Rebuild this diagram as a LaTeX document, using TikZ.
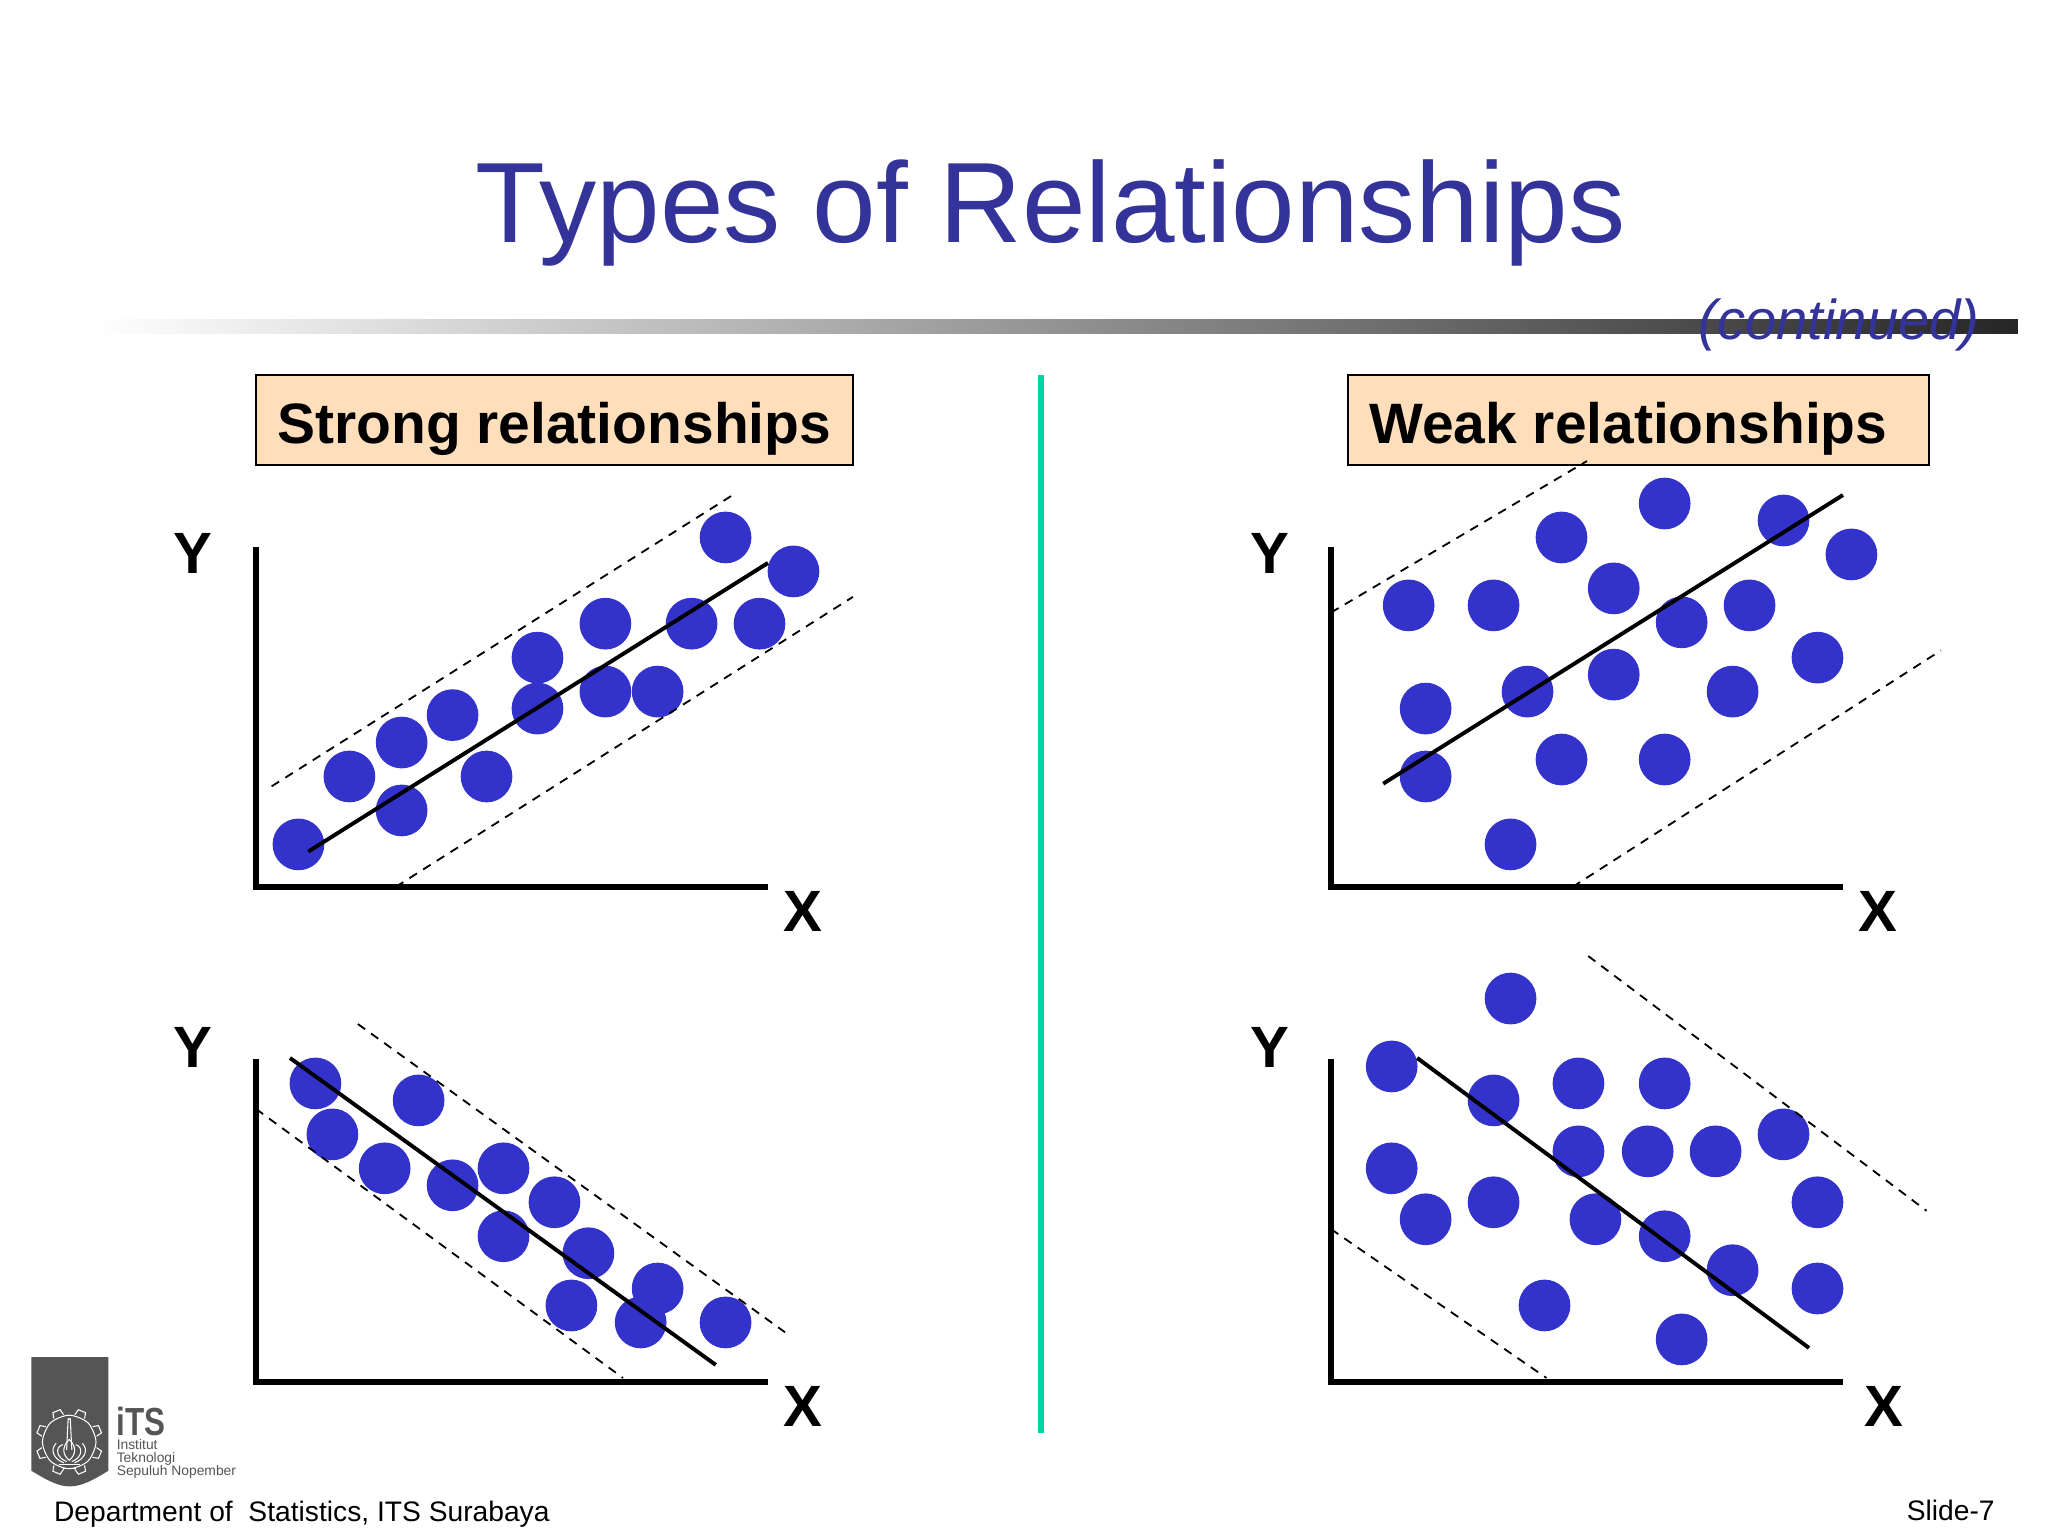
\documentclass[tikz,border=0pt]{standalone}
\usepackage{fontspec}
\setmainfont{Liberation Sans}
\usetikzlibrary{calc}
\definecolor{titleblue}{HTML}{333399}
\definecolor{dotblue}{HTML}{3333CC}
\definecolor{boxfill}{HTML}{FFDFBB}
\definecolor{divider}{HTML}{00D5A3}
\definecolor{logogray}{HTML}{555555}
\tikzset{
  axisline/.style={line width=2.1pt,line cap=butt},
  trendline/.style={line width=1.5pt},
  bandline/.style={line width=0.7pt,dash pattern=on 3.4pt off 2.8pt},
  dotmark/.style={circle,fill=dotblue,draw=none,minimum size=19.8pt,inner sep=0pt,xshift=0.25pt,yshift=-0.25pt},
  axislabel/.style={font=\fontsize{22.3}{24}\selectfont\bfseries,inner sep=0pt,xshift=0.5pt},
  headbox/.style={draw=black,line width=1pt,fill=boxfill},
  headtext/.style={font=\fontsize{21.8}{24}\selectfont\bfseries,anchor=base west,inner sep=0pt},
  foot/.style={font=\fontsize{10.8}{12}\selectfont,anchor=base west,inner sep=0pt},
  logotext/.style={font=\fontsize{5.3}{6}\selectfont,text=logogray,anchor=base west,inner sep=0pt}
}
\begin{document}
\begin{tikzpicture}[x=0.5pt,y=-0.5pt]
\useasboundingbox (0,0) rectangle (1568,1176);
\fill[white] (0,0) rectangle (1568,1176);

% title and rule
\node[anchor=base west,inner sep=0pt,text=titleblue,font=\fontsize{43.75}{48}\selectfont] (title) at (364,185.5) {Types of Relationships};
\shade[left color=white,right color=black!85] (70,244.5) rectangle (1545,255);
\node[anchor=base west,inner sep=0pt,text=titleblue,font=\fontsize{21.5}{24}\selectfont\itshape] (cont) at (1300,260) {(continued)};

% headers
\draw[headbox] (196,287) rectangle (653,356);
\node[headtext] (strong) at (212,339.5) {Strong relationships};
\draw[headbox] (1032,287) rectangle (1477,356);
\node[headtext] (weak) at (1048,339.5) {Weak relationships};

% divider
\draw[divider,line width=2.2pt] (797,287) -- (797,1097);

% top-left
\foreach \x/\y in {228/646,267/594,307/620,307/568,346/547,372/594,411/503,411/542,463/477,463/529,503/529,529/477,555/411,581/477,607/437}
  \node[dotmark] at (\x,\y) {};
\draw[trendline] (236,652) -- (588,431);
\draw[bandline] (208,602) -- (561,379);
\draw[bandline] (303,679) -- (653,457);
\draw[axisline] (196,419) -- (196,679) -- (588,679);
\node[axislabel] (y1) at (147,424) {Y};
\node[axislabel] (x1) at (614,698) {X};

% top-right
\foreach \x/\y in {1078/463,1143/463,1195/411,1235/450,1274/385,1365/398,1417/424,1339/463,1287/476,1391/503,1326/529,1235/516,1169/529,1091/542,1091/594,1195/581,1274/581,1156/646}
  \node[dotmark] at (\x,\y) {};
\draw[trendline] (1059,600) -- (1411,379);
\draw[bandline] (1019,469) -- (1215,353);
\draw[bandline] (1204,679) -- (1486,498);
\draw[axisline] (1019,419) -- (1019,679) -- (1411,679);
\node[axislabel] (y2) at (971,424) {Y};
\node[axislabel] (x2) at (1437,698) {X};

% bottom-left
\foreach \x/\y in {241/829,254/868,320/842,294/894,346/907,385/894,424/920,385/946,450/959,503/986,437/999,490/1012,555/1012}
  \node[dotmark] at (\x,\y) {};
\draw[trendline] (222,810) -- (548,1045);
\draw[bandline] (274,784) -- (601,1020);
\draw[bandline] (196,849) -- (477,1055);
\draw[axisline] (196,811) -- (196,1058) -- (588,1058);
\node[axislabel] (y3) at (147,802) {Y};
\node[axislabel] (x3) at (614,1077) {X};

% bottom-right
\foreach \x/\y in {1156/764,1065/816,1143/842,1208/829,1274/829,1208/881,1261/881,1313/881,1365/868,1065/894,1091/933,1143/920,1221/933,1274/946,1391/920,1326/972,1391/986,1182/999,1287/1025}
  \node[dotmark] at (\x,\y) {};
\draw[trendline] (1085,810) -- (1385,1032);
\draw[bandline] (1216,732) -- (1475,927);
\draw[bandline] (1019,941) -- (1184,1055);
\draw[axisline] (1019,811) -- (1019,1058) -- (1411,1058);
\node[axislabel] (y4) at (971,802) {Y};
\node[axislabel] (x4) at (1441,1077) {X};

% logo
\fill[logogray] (24,1039) -- (83,1039) -- (83,1126) .. controls (70,1134) and (62,1138) .. (53.5,1138) .. controls (45,1138) and (37,1134) .. (24,1126) -- cycle;
\begin{scope}[shift={(53,1104)},white,line width=0.4pt]
  \draw plot[smooth cycle] coordinates {(0,-20.5)(14.5,-14.5)(20.5,0)(14.5,14.5)(0,20.5)(-14.5,14.5)(-20.5,0)(-14.5,-14.5)};
  \foreach \a in {0,45,...,315}{
    \draw[rotate=\a+22.5] (-4,-21) -- (-3,-25.5) -- (3,-25.5) -- (4,-21);
  }
  \draw (-0.8,-18) -- (-2,6) (0.8,-18) -- (2,6);
  \draw (-0.8,-18) arc[start angle=180,end angle=0,radius=0.8];
  \draw (0,-2) .. controls (-6,4) and (-5,10) .. (0,14) .. controls (5,10) and (6,4) .. (0,-2);
  \draw (-5,2) .. controls (-11,4) and (-10,12) .. (-2,15);
  \draw (5,2) .. controls (11,4) and (10,12) .. (2,15);
  \draw (-10,1) .. controls (-15,6) and (-12,13) .. (-4,16);
  \draw (10,1) .. controls (15,6) and (12,13) .. (4,16);
  \draw (-8,17) -- (8,17);
  \draw (-5,20) -- (5,20);
\end{scope}
\node[anchor=base west,inner sep=0pt,text=logogray,font=\fontsize{15}{16}\selectfont\bfseries] (its) at (89,1099) {\scalebox{0.8}[1]{iTS}};
\node[logotext] (inst) at (89,1109.5) {Institut};
\node[logotext] (tek) at (89,1119.5) {Teknologi};
\node[logotext] (sep) at (89,1130) {Sepuluh Nopember};

% footer
\node[foot] (dept) at (41,1165) {Department of\ \ Statistics, ITS Surabaya};
\node[foot,anchor=base east] (slide) at (1527.5,1164) {Slide-7};
\end{tikzpicture}
\end{document}
